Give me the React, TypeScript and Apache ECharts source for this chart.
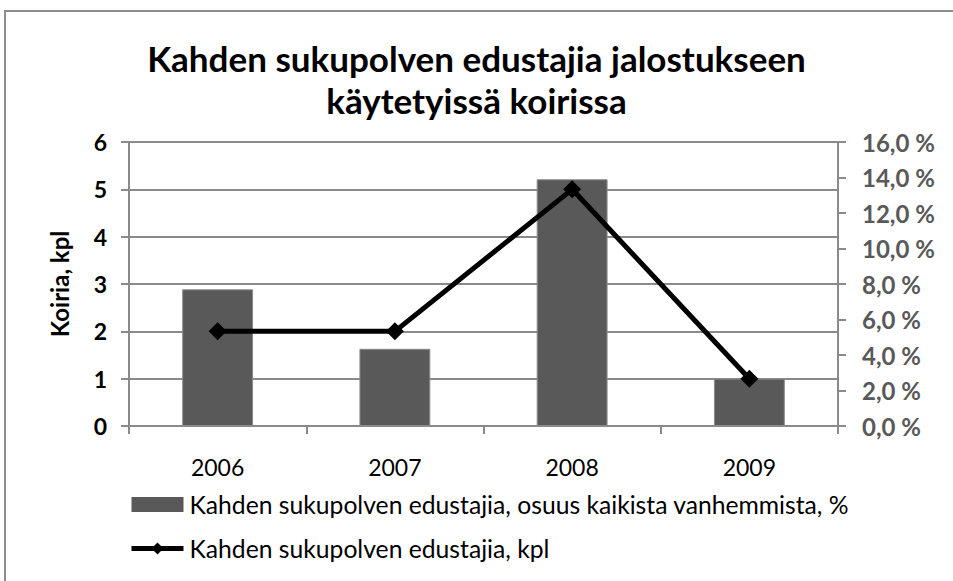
import React, { useEffect, useRef } from "react";
import * as echarts from "echarts";

const years = ["2006", "2007", "2008", "2009"];
const shareValues = [7.7, 4.35, 13.9, 2.67];
const countValues = [2, 2, 5, 1];
const titleText = "Kahden sukupolven edustajia jalostukseen\nkäytetyissä koirissa";
const barName = "Kahden sukupolven edustajia, osuus kaikista vanhemmista, %";
const lineName = "Kahden sukupolven edustajia, kpl";
const leftAxisName = "Koiria, kpl";

const FONT = "Lato, 'Open Sans', sans-serif";
const GRID = "#8a8a8a";

export default function App() {
  const ref = useRef<HTMLDivElement>(null);
  useEffect(() => {
    if (!ref.current) return;
    const chart = echarts.init(ref.current, undefined, { renderer: "svg" });
    chart.setOption({
      animation: false,
      backgroundColor: "#ffffff",
      textStyle: { fontFamily: FONT },
      graphic: [
        {
          type: "rect",
          shape: { x: 5, y: 11, width: 960, height: 600 },
          style: { fill: "none", stroke: "#8c8c8c", lineWidth: 2 },
          silent: true,
        },
      ],
      title: {
        text: titleText,
        left: "center",
        top: 32,
        textStyle: {
          fontFamily: FONT,
          fontSize: 35,
          fontWeight: "bold",
          color: "#000",
          lineHeight: 42,
        },
      },
      legend: {
        orient: "vertical",
        left: 124,
        top: 487,
        itemGap: 19,
        itemWidth: 52,
        itemHeight: 15,
        textStyle: { fontFamily: FONT, fontSize: 24.7, color: "#000", padding: [0, 0, 0, 1] },
        data: [
          { name: barName, icon: "rect", itemStyle: { borderWidth: 0 } },
          { name: lineName, lineStyle: { width: 5, color: "#000" }, itemStyle: { color: "#000" } },
        ],
      },
      grid: { left: 129, right: 115, top: 142, bottom: 155, containLabel: false },
      xAxis: {
        type: "category",
        data: years,
        boundaryGap: true,
        axisLine: { lineStyle: { color: GRID, width: 2 } },
        axisTick: { show: true, length: 8, lineStyle: { color: GRID, width: 2 } },
        axisLabel: { fontFamily: FONT, fontSize: 23, color: "#000", margin: 29 },
      },
      yAxis: [
        {
          type: "value",
          min: 0,
          max: 6,
          interval: 1,
          position: "left",
          name: leftAxisName,
          nameLocation: "middle",
          nameRotate: 90,
          nameGap: 58,
          nameTextStyle: { fontFamily: FONT, fontSize: 24, fontWeight: "bold", color: "#000" },
          axisLine: { show: true, lineStyle: { color: GRID, width: 2 } },
          axisTick: { show: true, inside: false, length: 8, lineStyle: { color: GRID, width: 2 } },
          axisLabel: { fontFamily: FONT, fontSize: 23, fontWeight: "bold", color: "#000", margin: 22 },
          splitLine: { show: true, lineStyle: { color: GRID, width: 2 } },
        },
        {
          type: "value",
          min: 0,
          max: 16,
          interval: 2,
          position: "right",
          axisLine: { show: true, lineStyle: { color: GRID, width: 2 } },
          axisTick: { show: true, inside: false, length: 8, lineStyle: { color: GRID, width: 2 } },
          axisLabel: {
            fontFamily: FONT,
            fontSize: 24,
            fontWeight: "bold",
            color: "#595959",
            margin: 24,
            formatter: (v: number) => v.toFixed(1).replace(".", ",") + " %",
          },
          splitLine: { show: false },
        },
      ],
      series: [
        {
          name: barName,
          type: "bar",
          yAxisIndex: 1,
          data: shareValues,
          barWidth: "40%",
          itemStyle: { color: "#595959", borderColor: "#8c8c8c", borderWidth: 1 },
          z: 2,
        },
        {
          name: lineName,
          type: "line",
          yAxisIndex: 0,
          data: countValues,
          symbol: "diamond",
          symbolSize: 18,
          lineStyle: { color: "#000", width: 5 },
          itemStyle: { color: "#000" },
          z: 3,
        },
      ],
    });
    return () => chart.dispose();
  }, []);
  return (
    <div
      ref={ref}
      style={{ position: "fixed", left: 0, top: 0, width: 953, height: 581 }}
    />
  );
}
